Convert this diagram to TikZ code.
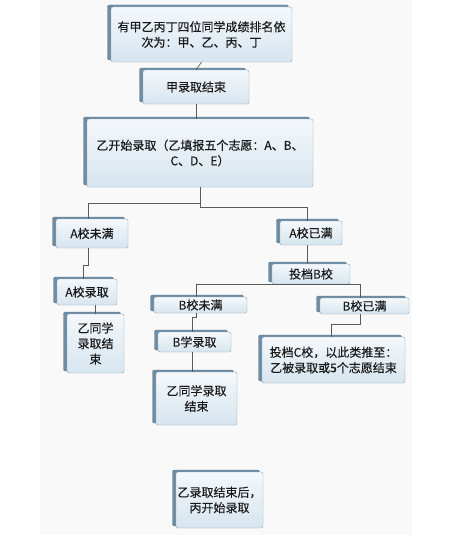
\documentclass[tikz,border=0pt]{standalone}
\usepackage{fontspec}
\newfontfamily\cjk[FakeBold=0.3]{Noto Sans CJK SC}
\usetikzlibrary{shadows}

\definecolor{boxedge}{HTML}{6F8EA6}
\definecolor{boxline}{HTML}{8FA3B3}
\definecolor{boxtop}{HTML}{F4F8FB}
\definecolor{boxbot}{HTML}{D7E5EF}
\definecolor{linkgray}{HTML}{5A5A5A}
\definecolor{bgshade}{HTML}{F9F9F9}

\begin{document}
\begin{tikzpicture}[
        x=1pt, y=-1pt,
        % boxes with the dark bevel on the left and on top
        box/.style={
                draw=boxline,
                top color=boxtop,
                bottom color=boxbot,
                rounded corners=2pt,
                align=center,
                inner sep=0pt,
                font=\cjk\fontsize{12}{15.5}\selectfont,
                text=black!90,
                general shadow={shadow xshift=-3.5pt, shadow yshift=2pt, fill=boxedge, draw=boxedge!80!black}
            },
        % connectors
        link/.style={
                draw=linkgray,
                line width=0.7pt
            }
    ]

    \useasboundingbox (0,0) rectangle (468,535);
    \fill[bgshade] (40,0) rectangle (412,535);

    % 1. Top chain
    \node[box, minimum width=181, minimum height=55] (rank) at (201.5,34.5)
    {有甲乙丙丁四位同学成绩排名依\\次为：甲、乙、丙、丁};
    \node[box, minimum width=106, minimum height=34] (jiaend) at (196,87) {甲录取结束};
    \node[box, minimum width=226, minimum height=68] (yistart) at (200,153)
    {乙开始录取（乙填报五个志愿：A、B、\\C、D、E）};

    % 2. School A
    \node[box, minimum width=72, minimum height=29] (anotfull) at (92,233.5) {A校未满};
    \node[box, minimum width=62, minimum height=24] (afull) at (311,233) {A校已满};
    \node[box, minimum width=60, minimum height=26] (aadmit) at (87,292) {A校录取};
    \node[box, minimum width=57, minimum height=59] (yiendA) at (95.5,343.5) {乙同学\\录取结\\束};

    % 3. School B
    \node[box, minimum width=78, minimum height=20] (tob) at (311,274) {投档B校};
    \node[box, minimum width=93, minimum height=16] (bnotfull) at (200.5,305) {B校未满};
    \node[box, minimum width=89, minimum height=16] (bfull) at (364.5,306) {B校已满};
    \node[box, minimum width=73, minimum height=20] (badmit) at (194.5,342) {B学录取};
    \node[box, minimum width=81, minimum height=53] (yiendB) at (196.5,398.5) {乙同学录取\\结束};
    \node[box, minimum width=143, minimum height=46] (toc) at (333.5,360)
    {投档C校，以此类推至：\\乙被录取或5个志愿结束};

    % 4. Next student
    \node[box, minimum width=87, minimum height=56] (bingstart) at (219.5,500) {乙录取结束后，\\丙开始录取};

    % 5. Connectors
    \draw[link] (rank.south) -- (jiaend.north);
    \draw[link] (jiaend.south) -- (jiaend.south |- yistart.north);
    \draw[link] (yistart.south) -- ++(0,16) -| ([xshift=-4pt]anotfull.north);
    \draw[link] (yistart.south) -- ++(0,20) -| ([xshift=-4pt]afull.north);
    \draw[link] ([xshift=-4pt]anotfull.south) -- ++(0,17) -| ([xshift=-4pt]aadmit.north);
    \draw[link] (yiendA.north) -- (yiendA.north |- aadmit.south);
    \draw[link] ([xshift=-4pt]afull.south) -- ([xshift=-4pt]afull.south |- tob.north);
    \draw[link] ([xshift=-4pt]bnotfull.north) |- (tob.south) -| ([xshift=-4pt]bfull.north);
    \draw[link] ([xshift=-4pt]bnotfull.south) -- ++(0,4) -| ([xshift=-2pt]badmit.north);
    \draw[link] ([xshift=-2pt]badmit.south) -- ++(0,8) -| ([xshift=-4pt]yiendB.north);
    \draw[link] ([xshift=-4pt]bfull.south) -- ++(0,10) -| ([xshift=-2pt]toc.north);

\end{tikzpicture}
\end{document}
